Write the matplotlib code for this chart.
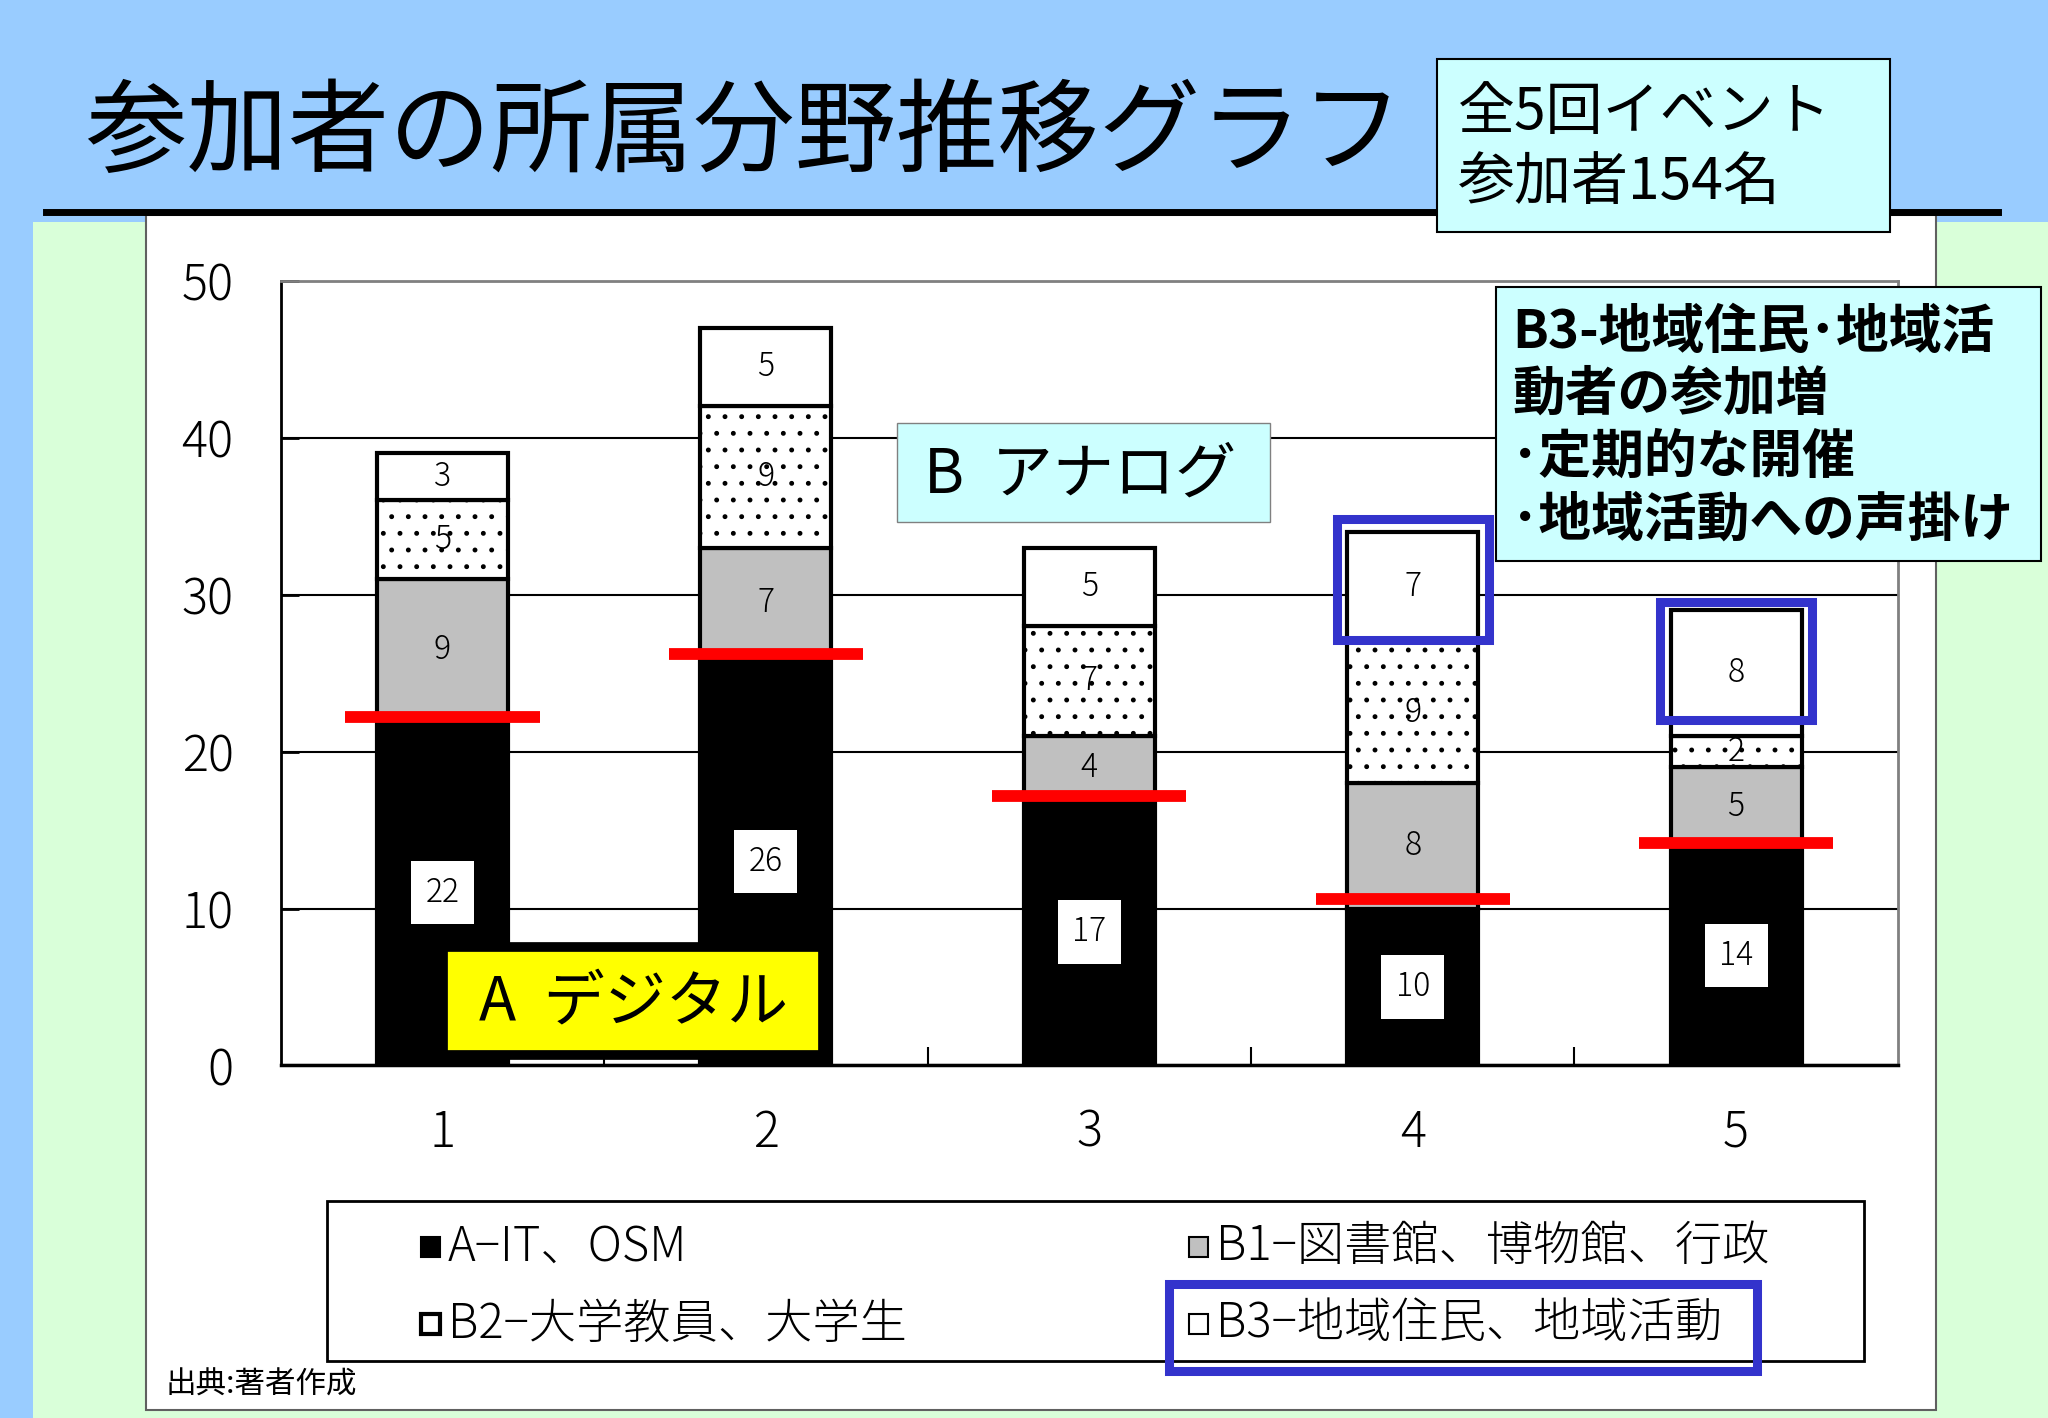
import matplotlib
matplotlib.use('Agg')
import matplotlib.pyplot as plt
from matplotlib.patches import Rectangle
import numpy as np

plt.rcParams['font.family'] = ['Noto Sans CJK JP', 'DejaVu Sans']
plt.rcParams['hatch.linewidth'] = 1.1

# data
events = [1, 2, 3, 4, 5]
a_it = [22, 26, 17, 10, 14]
b1_lib = [9, 7, 4, 8, 5]
b2_univ = [5, 9, 7, 9, 2]
b3_local = [3, 5, 5, 7, 8]
red_levels = [22.2, 26.2, 17.2, 10.6, 14.2]
highlight_events = [4, 5]
highlight_ranges = [(27.1, 34.8), (22.0, 29.5)]

legend_labels = ['A−IT、OSM', 'B1−図書館、博物館、行政',
                 'B2−大学教員、大学生', 'B3−地域住民、地域活動']

W, H = 1568.0, 1086.0  # layout measured on a 1568x1086 copy


def fx(x):
    return x / W


def fy(y):
    return 1 - y / H


fig = plt.figure(figsize=(20.48, 14.18), dpi=100)
fig.patch.set_facecolor('#99CCFF')

# background panels
fig.add_artist(Rectangle((fx(25), 0), 1 - fx(25), fy(170), transform=fig.transFigure,
                         facecolor='#D9FFD9', edgecolor='none', zorder=0))
fig.add_artist(Rectangle((fx(112), fy(1080)), (1482 - 112) / W, (1080 - 165) / H,
                         transform=fig.transFigure, facecolor='white',
                         edgecolor='#606060', lw=1.5, zorder=1))
fig.add_artist(plt.Line2D([fx(35), fx(1530)], [fy(162), fy(162)], transform=fig.transFigure,
                          color='black', lw=5, zorder=2))

# title
fig.text(fx(65), fy(103), '参加者の所属分野推移グラフ', fontsize=73, va='center', ha='left')

# info box
fig.add_artist(Rectangle((fx(1100), fy(178)), (1447 - 1100) / W, (178 - 45) / H,
                         transform=fig.transFigure, facecolor='#CCFFFF',
                         edgecolor='black', lw=1.5, zorder=3))
fig.text(fx(1116), fy(86), '全5回イベント', fontsize=41, va='center', ha='left', zorder=4)
fig.text(fx(1116), fy(141), '参加者154名', fontsize=41, va='center', ha='left', zorder=4)

# chart
ax = fig.add_axes([fx(215), fy(816), (1453 - 215) / W, (816 - 215) / H])
ax.set_facecolor('white')
ax.set_zorder(2)

x = np.array(events)
width = 0.405
bottoms = np.zeros(len(x))
seg_style = [
    dict(color='black', hatch=None),
    dict(color='#C0C0C0', hatch=None),
    dict(color='white', hatch='.'),
    dict(color='white', hatch=None),
]
series = [a_it, b1_lib, b2_univ, b3_local]
for vals, st in zip(series, seg_style):
    vals = np.array(vals)
    ax.bar(x, vals, width, bottom=bottoms, color=st['color'], edgecolor='black',
           linewidth=3, hatch=st['hatch'], zorder=3)
    for xi, b, v in zip(x, bottoms, vals):
        kw = dict(ha='center', va='center', fontsize=23, fontweight='light', zorder=6)
        if st['color'] == 'black':
            kw['bbox'] = dict(boxstyle='square,pad=0.45', facecolor='white', edgecolor='none')
        ax.text(xi, b + v / 2, str(v), **kw)
    bottoms = bottoms + vals

# red markers at the A level
ax.hlines(red_levels, x - 0.3, x + 0.3, colors='#FF0000', lw=8.5, zorder=5)

# blue highlight around B3
for ev, (lo, hi) in zip(highlight_events, highlight_ranges):
    i = events.index(ev)
    ax.add_patch(Rectangle((x[i] - 0.235, lo), 0.47, hi - lo,
                           facecolor='none', edgecolor='#3333CC', lw=6.5, zorder=7))

ax.set_xlim(0.5, 5.5)
ax.set_ylim(0, 50)
ax.set_yticks(range(0, 51, 10))
ax.set_xticks(events)
ax.set_xticks([1.5, 2.5, 3.5, 4.5], minor=True)
ax.yaxis.grid(True, color='black', lw=1.5)
ax.set_axisbelow(True)
ax.tick_params(axis='y', direction='in', length=13, width=2, pad=34, labelsize=35)
ax.tick_params(axis='x', which='major', length=0, pad=30, labelsize=35)
ax.tick_params(axis='x', which='minor', direction='in', length=13, width=1.5)
for lab in ax.get_xticklabels() + ax.get_yticklabels():
    lab.set_fontweight('light')
ax.spines['left'].set_linewidth(2)
ax.spines['bottom'].set_linewidth(2.5)
ax.spines['top'].set_color('#808080')
ax.spines['right'].set_color('#808080')
ax.spines['top'].set_linewidth(2)
ax.spines['right'].set_linewidth(2)

# group labels
fig.add_artist(Rectangle((fx(687), fy(400)), (972 - 687) / W, (400 - 324) / H,
                         transform=fig.transFigure, facecolor='#CCFFFF',
                         edgecolor='#808080', lw=1, zorder=8))
fig.text(fx(827), fy(364), 'B  アナログ', fontsize=44, va='center', ha='center', zorder=9)
fig.add_artist(Rectangle((fx(339), fy(808)), (630 - 339) / W, (808 - 725) / H,
                         transform=fig.transFigure, facecolor='#FFFF00',
                         edgecolor='black', lw=7, zorder=8))
fig.text(fx(485), fy(768), 'A  デジタル', fontsize=44, va='center', ha='center', zorder=9)

# callout
fig.add_artist(Rectangle((fx(1145), fy(430)), (1563 - 1145) / W, (430 - 220) / H,
                         transform=fig.transFigure, facecolor='#CCFFFF',
                         edgecolor='black', lw=1.5, zorder=8))
call_lines = ['B3-地域住民･地域活', '動者の参加増', '･定期的な開催', '･地域活動への声掛け']
for txt, yy in zip(call_lines, [255, 302, 350, 398]):
    fig.text(fx(1158), fy(yy), txt, fontsize=38, fontweight='bold', va='center',
             ha='left', zorder=9)

# legend
fig.add_artist(Rectangle((fx(250), fy(1042)), (1427 - 250) / W, (1042 - 920) / H,
                         transform=fig.transFigure, facecolor='white',
                         edgecolor='black', lw=2, zorder=8))
leg_pos = [(322, 955), (910, 955), (322, 1014), (910, 1014)]
leg_face = ['black', '#C0C0C0', 'white', 'white']
leg_edge_w = [1.5, 1.5, 3, 1.5]
for lab, (lx, ly), fc, lw in zip(legend_labels, leg_pos, leg_face, leg_edge_w):
    fig.add_artist(Rectangle((fx(lx), fy(ly + 8)), 15 / W, 16 / H, transform=fig.transFigure,
                             facecolor=fc, edgecolor='black', lw=lw, zorder=9))
    fig.text(fx(lx + 21), fy(ly), lab, fontsize=34, fontweight='light', va='center',
             ha='left', zorder=9)
fig.add_artist(Rectangle((fx(895), fy(1050)), (1345 - 895) / W, (1050 - 983) / H,
                         transform=fig.transFigure, facecolor='none',
                         edgecolor='#3333CC', lw=6.5, zorder=10))

fig.text(fx(127), fy(1061), '出典:著者作成', fontsize=22, va='center', ha='left', zorder=9)

fig.savefig('out.png', dpi=100, facecolor=fig.get_facecolor())
